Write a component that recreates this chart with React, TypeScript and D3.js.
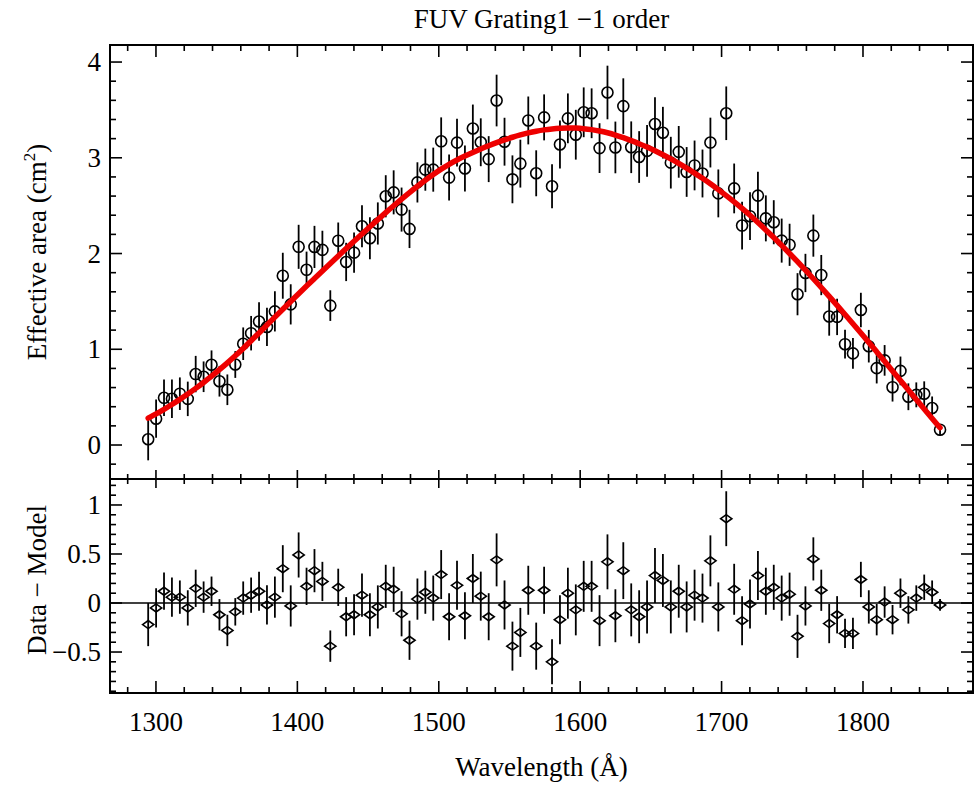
import React, { useEffect, useRef } from 'react';
import * as d3 from 'd3';

const WAVELENGTH = [
  1294.5, 1300.1, 1305.7, 1311.3, 1316.9, 1322.5, 1328.1, 1333.7, 1339.3, 1344.9,
  1350.5, 1356.1, 1361.7, 1367.3, 1372.9, 1378.5, 1384.1, 1389.7, 1395.3, 1400.9,
  1406.5, 1412.1, 1417.7, 1423.3, 1428.9, 1434.5, 1440.1, 1445.7, 1451.3, 1456.9,
  1462.5, 1468.1, 1473.7, 1479.3, 1484.9, 1490.5, 1496.1, 1501.7, 1507.3, 1512.9,
  1518.5, 1524.1, 1529.7, 1535.3, 1540.9, 1546.5, 1552.1, 1557.7, 1563.3, 1568.9,
  1574.5, 1580.1, 1585.7, 1591.3, 1596.9, 1602.5, 1608.1, 1613.7, 1619.3, 1624.9,
  1630.5, 1636.1, 1641.7, 1647.3, 1652.9, 1658.5, 1664.1, 1669.7, 1675.3, 1680.9,
  1686.5, 1692.1, 1697.7, 1703.3, 1708.9, 1714.5, 1720.1, 1725.7, 1731.3, 1736.9,
  1742.5, 1748.1, 1753.7, 1759.3, 1764.9, 1770.5, 1776.1, 1781.7, 1787.3, 1792.9,
  1798.5, 1804.1, 1809.7, 1815.3, 1820.9, 1826.5, 1832.1, 1837.7, 1843.3, 1848.9,
  1854.5,
];

const MODEL = [
  0.280, 0.325, 0.373, 0.423, 0.476, 0.532, 0.591, 0.653, 0.718, 0.786,
  0.857, 0.931, 1.008, 1.088, 1.170, 1.253, 1.336, 1.418, 1.499, 1.580,
  1.660, 1.739, 1.818, 1.896, 1.974, 2.052, 2.129, 2.205, 2.280, 2.354,
  2.428, 2.499, 2.569, 2.637, 2.703, 2.766, 2.826, 2.882, 2.933, 2.978,
  3.018, 3.056, 3.092, 3.126, 3.158, 3.188, 3.215, 3.239, 3.260, 3.278,
  3.292, 3.302, 3.309, 3.312, 3.311, 3.305, 3.295, 3.281, 3.262, 3.238,
  3.210, 3.180, 3.148, 3.112, 3.073, 3.032, 2.989, 2.942, 2.892, 2.840,
  2.786, 2.729, 2.668, 2.605, 2.540, 2.472, 2.400, 2.325, 2.247, 2.167,
  2.085, 2.001, 1.915, 1.827, 1.737, 1.645, 1.552, 1.458, 1.363, 1.267,
  1.170, 1.072, 0.973, 0.874, 0.774, 0.674, 0.574, 0.474, 0.375, 0.277,
  0.180,
];

const RESIDUAL = [
  -0.22, -0.05, 0.12, 0.06, 0.06, -0.05, 0.15, 0.06, 0.12, -0.12,
  -0.28, -0.09, 0.05, 0.08, 0.12, -0.02, 0.06, 0.35, -0.03, 0.49,
  0.17, 0.33, 0.22, -0.44, 0.16, -0.14, -0.12, 0.08, -0.12, -0.04,
  0.17, 0.14, -0.11, -0.38, 0.04, 0.11, 0.05, 0.29, -0.14, 0.18,
  -0.13, 0.25, 0.07, -0.14, 0.44, -0.02, -0.44, -0.30, 0.13, -0.44,
  0.13, -0.60, -0.17, 0.10, -0.07, 0.17, 0.17, -0.18, 0.42, -0.13,
  0.33, -0.07, -0.14, -0.04, 0.28, 0.23, -0.04, 0.12, -0.04, 0.08,
  0.05, 0.43, -0.04, 0.86, 0.14, -0.18, -0.01, 0.28, 0.12, 0.16,
  0.05, 0.09, -0.34, -0.03, 0.45, 0.13, -0.21, -0.12, -0.31, -0.31,
  0.24, -0.04, -0.17, 0.01, -0.17, 0.10, -0.07, 0.05, 0.16, 0.11,
  -0.02,
];

const ERROR = [
  0.22, 0.20, 0.19, 0.20, 0.17, 0.18, 0.19, 0.16, 0.15, 0.16,
  0.16, 0.14, 0.17, 0.18, 0.20, 0.20, 0.21, 0.24, 0.21, 0.23,
  0.19, 0.22, 0.20, 0.16, 0.19, 0.20, 0.21, 0.22, 0.22, 0.22,
  0.22, 0.23, 0.23, 0.20, 0.21, 0.22, 0.23, 0.25, 0.24, 0.25,
  0.24, 0.25, 0.25, 0.24, 0.27, 0.25, 0.25, 0.25, 0.25, 0.24,
  0.24, 0.23, 0.25, 0.26, 0.26, 0.26, 0.26, 0.26, 0.28, 0.27,
  0.29, 0.27, 0.27, 0.27, 0.28, 0.27, 0.27, 0.27, 0.26, 0.26,
  0.25, 0.26, 0.25, 0.28, 0.26, 0.25, 0.25, 0.25, 0.24, 0.23,
  0.23, 0.22, 0.22, 0.20, 0.22, 0.21, 0.20, 0.19, 0.15, 0.16,
  0.18, 0.17, 0.16, 0.16, 0.15, 0.15, 0.14, 0.13, 0.13, 0.12,
  0.06,
];

const X_TICKS = [1300, 1400, 1500, 1600, 1700, 1800];
const UPPER_Y_TICKS = [0, 1, 2, 3, 4];
const LOWER_Y_TICKS = [-0.5, 0, 0.5, 1];

const TITLE = 'FUV Grating1 \u22121 order';
const X_LABEL = 'Wavelength (\u00C5)';
const LOWER_Y_LABEL = 'Data \u2212 Model';

const FONT = '"Liberation Serif", "Times New Roman", serif';

export default function App() {
  const ref = useRef<SVGSVGElement>(null);

  useEffect(() => {
    const svg = d3.select(ref.current);
    svg.selectAll('*').remove();

    const L = 110, R = 973, T = 45, M = 479, B = 693;
    const x = d3.scaleLinear().domain([1267.5, 1877.8]).range([L, R]);
    const yU = d3.scaleLinear().domain([-0.355, 4.178]).range([M, T]);
    const yL = d3.scaleLinear().domain([-0.918, 1.265]).range([B, M]);

    const data = WAVELENGTH.map((w, i) => ({
      w,
      model: MODEL[i],
      res: RESIDUAL[i],
      area: MODEL[i] + RESIDUAL[i],
      err: ERROR[i],
    }));

    svg.append('rect').attr('width', 975).attr('height', 787).attr('fill', '#fff');

    const axes = svg.append('g').attr('stroke', '#000').attr('stroke-width', 1.6);
    const majorLen = 12, minorLen = 6;

    // x ticks
    const xMinor = d3.range(1280, 1880, 20);
    xMinor.forEach((v) => {
      const isMajor = v % 100 === 0;
      const len = isMajor ? majorLen : minorLen;
      const px = x(v);
      axes.append('line').attr('x1', px).attr('x2', px).attr('y1', T).attr('y2', T + len);
      axes.append('line').attr('x1', px).attr('x2', px).attr('y1', M).attr('y2', M - (isMajor ? 9 : 5));
      axes.append('line').attr('x1', px).attr('x2', px).attr('y1', M).attr('y2', M + (isMajor ? 9 : 5));
      axes.append('line').attr('x1', px).attr('x2', px).attr('y1', B).attr('y2', B - len);
    });

    // upper y ticks
    const yUMinor = d3.range(-0.2, 4.19, 0.2).map((v) => Math.round(v * 10) / 10);
    yUMinor.forEach((v) => {
      const isMajor = Math.abs(v - Math.round(v)) < 1e-6;
      const len = isMajor ? majorLen : minorLen;
      const py = yU(v);
      axes.append('line').attr('x1', L).attr('x2', L + len).attr('y1', py).attr('y2', py);
      axes.append('line').attr('x1', R).attr('x2', R - len).attr('y1', py).attr('y2', py);
    });

    // lower y ticks
    const yLMinor = d3.range(-0.9, 1.26, 0.1).map((v) => Math.round(v * 10) / 10);
    yLMinor.forEach((v) => {
      const isMajor = Math.abs(v * 2 - Math.round(v * 2)) < 1e-6;
      const len = isMajor ? majorLen : minorLen;
      const py = yL(v);
      axes.append('line').attr('x1', L).attr('x2', L + len).attr('y1', py).attr('y2', py);
      axes.append('line').attr('x1', R).attr('x2', R - len).attr('y1', py).attr('y2', py);
    });

    // frames
    svg.append('rect').attr('x', L).attr('y', T).attr('width', R - L).attr('height', B - T)
      .attr('fill', 'none').attr('stroke', '#000').attr('stroke-width', 2);
    svg.append('line').attr('x1', L).attr('x2', R).attr('y1', M).attr('y2', M)
      .attr('stroke', '#000').attr('stroke-width', 2);

    // zero line lower
    svg.append('line').attr('x1', L).attr('x2', R).attr('y1', yL(0)).attr('y2', yL(0))
      .attr('stroke', '#000').attr('stroke-width', 1.6);

    // upper error bars & markers
    const up = svg.append('g');
    up.selectAll('line.err').data(data).join('line')
      .attr('x1', (d) => x(d.w)).attr('x2', (d) => x(d.w))
      .attr('y1', (d) => yU(d.area - d.err)).attr('y2', (d) => yU(d.area + d.err))
      .attr('stroke', '#000').attr('stroke-width', 1.8);
    up.selectAll('circle').data(data).join('circle')
      .attr('cx', (d) => x(d.w)).attr('cy', (d) => yU(d.area)).attr('r', 5.5)
      .attr('fill', 'none').attr('stroke', '#000').attr('stroke-width', 1.6);

    // model curve
    const line = d3.line<{ w: number; model: number }>()
      .x((d) => x(d.w)).y((d) => yU(d.model)).curve(d3.curveBasis);
    svg.append('path').datum(data).attr('d', line as any)
      .attr('fill', 'none').attr('stroke', '#ee0000').attr('stroke-width', 5.5)
      .attr('stroke-linecap', 'round');

    // lower residuals
    const lo = svg.append('g');
    lo.selectAll('line.err').data(data).join('line')
      .attr('x1', (d) => x(d.w)).attr('x2', (d) => x(d.w))
      .attr('y1', (d) => yL(d.res - d.err)).attr('y2', (d) => yL(d.res + d.err))
      .attr('stroke', '#000').attr('stroke-width', 1.8);
    const diamond = (cx: number, cy: number) =>
      `M${cx - 5.6},${cy}L${cx},${cy - 4}L${cx + 5.6},${cy}L${cx},${cy + 4}Z`;
    lo.selectAll('path').data(data).join('path')
      .attr('d', (d) => diamond(x(d.w), yL(d.res)))
      .attr('fill', 'none').attr('stroke', '#000').attr('stroke-width', 1.6);

    // labels
    const txt = svg.append('g').attr('font-family', FONT).attr('fill', '#000');
    const fs = 27;
    X_TICKS.forEach((v) => {
      txt.append('text').attr('x', x(v)).attr('y', 731).attr('text-anchor', 'middle')
        .attr('font-size', fs).text(String(v));
    });
    UPPER_Y_TICKS.forEach((v) => {
      txt.append('text').attr('x', 101).attr('y', yU(v) + 9).attr('text-anchor', 'end')
        .attr('font-size', fs).text(String(v));
    });
    LOWER_Y_TICKS.forEach((v) => {
      txt.append('text').attr('x', 101).attr('y', yL(v) + 9).attr('text-anchor', 'end')
        .attr('font-size', fs).text(v < 0 ? '\u2212' + String(-v) : String(v));
    });

    txt.append('text').attr('x', (L + R) / 2).attr('y', 28).attr('text-anchor', 'middle')
      .attr('font-size', fs).text(TITLE);
    txt.append('text').attr('x', (L + R) / 2).attr('y', 776).attr('text-anchor', 'middle')
      .attr('font-size', fs).text(X_LABEL);

    const yl = txt.append('text').attr('transform', `translate(46, ${(T + M) / 2 - 10}) rotate(-90)`)
      .attr('text-anchor', 'middle').attr('font-size', fs);
    yl.append('tspan').text('Effective area (cm');
    yl.append('tspan').attr('dy', -11).attr('font-size', 17).text('2');
    yl.append('tspan').attr('dy', 11).text(')');

    txt.append('text').attr('transform', `translate(46, ${(M + B) / 2 - 6}) rotate(-90)`)
      .attr('text-anchor', 'middle').attr('font-size', fs).text(LOWER_Y_LABEL);
  }, []);

  return (
    <svg
      ref={ref}
      width={975}
      height={787}
      style={{ position: 'absolute', left: 0, top: 0, display: 'block' }}
    />
  );
}
